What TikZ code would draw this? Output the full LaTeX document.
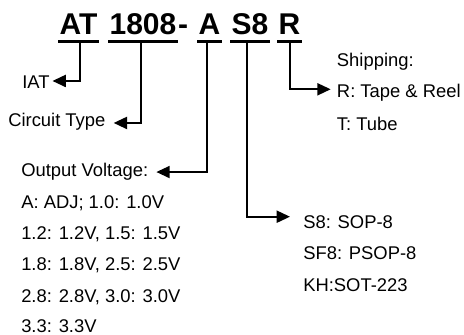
\documentclass[tikz,border=0pt]{standalone}
\usepackage{fontspec}
\setmainfont{Liberation Sans}
\usetikzlibrary{arrows.meta, positioning, calc}

\begin{document}
\begin{tikzpicture}[
    x=0.75pt, y=-0.75pt,
    part/.style={font=\fontsize{22.5}{27}\selectfont\bfseries, inner xsep=1pt, inner ysep=0pt, anchor=base},
    lbl/.style={font=\fontsize{13.8}{16}\selectfont, inner sep=0pt, anchor=base west},
    uline/.style={line width=2.3pt},
    arrow/.style={-{Triangle[length=10pt, width=9pt]}, line width=1.5pt}
]
    \useasboundingbox (0,0) rectangle (464,335);

    % part number
    \node[part] (at) at (78.5,35) {AT};
    \node[part] (type) at (143,35) {1808};
    \node[part, anchor=base west, inner xsep=0pt] (dash) at (type.base east) {-};
    \node[part] (vout) at (209.5,35) {A};
    \node[part] (pkg) at (250,35) {S8};
    \node[part] (ship) at (289.5,35) {R};
    \foreach \p in {at,type,vout,pkg,ship}
        \draw[uline] ([yshift=-4.9pt]\p.base west) -- ([yshift=-4.9pt]\p.base east);

    % descriptions
    \node[lbl] (iat) at (22,88.3) {IAT};
    \node[lbl] (ctype) at (8,126.7) {Circuit Type};
    \node[lbl] (vlbl) at (21,176.7) {Output Voltage:};
    \node[lbl] (v1) at (21,208.1) {A: ADJ; 1.0: 1.0V};
    \node[lbl] (v2) at (21,239.4) {1.2: 1.2V, 1.5: 1.5V};
    \node[lbl] (v3) at (21,270.7) {1.8: 1.8V, 2.5: 2.5V};
    \node[lbl] (v4) at (21,302) {2.8: 2.8V, 3.0: 3.0V};
    \node[lbl] (v5) at (21,332.3) {3.3: 3.3V};
    \node[lbl] (slbl) at (336.7,66.7) {Shipping:};
    \node[lbl] (sr) at (336.7,97.3) {R: Tape \& Reel};
    \node[lbl] (st) at (336.7,130.7) {T: Tube};
    \node[lbl] (p1) at (303,228.3) {S8: SOP-8};
    \node[lbl] (p2) at (303,259.6) {SF8: PSOP-8};
    \node[lbl] (p3) at (303,291.3) {KH:SOT-223};

    \draw[arrow] ([xshift=1.1pt, yshift=-4.9pt]at.base) |- ([xshift=2pt, yshift=5.5pt]iat.base east);
    \draw[arrow] ([xshift=-1.5pt, yshift=-4.9pt]type.base) |- ([xshift=6pt, yshift=2.8pt]ctype.base east);
    \draw[arrow] ([xshift=-1.9pt, yshift=-4.9pt]vout.base) |- ([xshift=6pt, yshift=3.5pt]vlbl.base east);
    \draw[arrow] ([xshift=-2.2pt, yshift=-4.9pt]pkg.base) |- ([xshift=-9.75pt, yshift=8.7pt]p1.base west);
    \draw[arrow] ([yshift=-4.9pt]ship.base) |- ([xshift=-4.5pt, yshift=6pt]sr.base west);
\end{tikzpicture}
\end{document}
